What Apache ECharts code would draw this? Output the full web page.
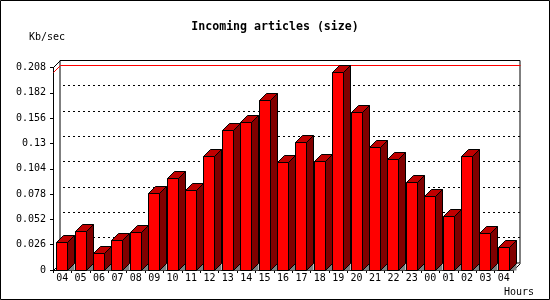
<!DOCTYPE html>
<html>
<head>
<meta charset="utf-8">
<script src="https://cdn.jsdelivr.net/npm/echarts/dist/echarts.min.js"></script>
<style>
html,body{margin:0;padding:0;background:#fff;}
#c{width:550px;height:300px;}
</style>
</head>
<body>
<div id="c"></div>
<script>
const hours = ['04','05','06','07','08','09','10','11','12','13','14','15','16','17','18','19','20','21','22','23','00','01','02','03','04'];
const kbPerSec = [0.0285,0.0397,0.0172,0.0305,0.0387,0.0788,0.0942,0.0819,0.1168,0.1435,0.152,0.1743,0.1106,0.1312,0.1116,0.2031,0.1613,0.126,0.114,0.0901,0.076,0.0552,0.1168,0.0377,0.0233];
const yTickLabels = ['0','0.026','0.052','0.078','0.104','0.13','0.156','0.182','0.208'];
const yStep = 0.026;
const yMax = 0.208;

const FONT = '"DejaVu Sans Mono", "Liberation Mono", monospace';
const D = 7; // 3D depth offset in px

const chart = echarts.init(document.getElementById('c'), null, {renderer: 'canvas'});

function px(v){ return Math.round(v - 0.5) + 0.5; }

const barData = kbPerSec.map((v, i) => [i, v]);
const maxVal = Math.max.apply(null, kbPerSec);
const gridVals = yTickLabels.slice(1, -1).map(Number);

const option = {
  animation: false,
  backgroundColor: '#ffffff',
  grid: [
    {left: 53, top: 67.5, width: 460, height: 202.5, show: false},
    {left: 60, top: 60.5, width: 460, height: 202.5, show: true, borderColor: '#000', borderWidth: 1, backgroundColor: 'transparent'}
  ],
  xAxis: [
    {
      type: 'category', gridIndex: 0, data: hours, boundaryGap: true,
      axisLine: {show: true, lineStyle: {color: '#000', width: 1}},
      axisTick: {show: true, length: 3, interval: 0, lineStyle: {color: '#000'}},
      axisLabel: {interval: 0, margin: 3, color: '#000', fontFamily: FONT, fontSize: 10},
      splitLine: {show: false}
    },
    {
      type: 'category', gridIndex: 1, data: hours, boundaryGap: true, show: false
    }
  ],
  yAxis: [
    {
      type: 'value', gridIndex: 0, min: 0, max: yMax, interval: yStep,
      axisLine: {show: true, lineStyle: {color: '#000', width: 1}},
      axisTick: {show: true, length: 3, lineStyle: {color: '#000'}},
      axisLabel: {margin: 7, color: '#000', fontFamily: FONT, fontSize: 10,
        formatter: function(v){ return yTickLabels[Math.round(v / yStep)]; }},
      splitLine: {show: false}
    },
    {
      type: 'value', gridIndex: 1, min: 0, max: yMax, interval: yStep,
      axisLine: {show: false}, axisTick: {show: false}, axisLabel: {show: false},
      splitLine: {show: false}
    }
  ],
  graphic: [
    {type: 'rect', shape: {x: 0.5, y: 0.5, width: 549, height: 299}, style: {fill: 'none', stroke: '#000', lineWidth: 1}, z: 100},
    {type: 'text', x: 275, y: 27, style: {text: 'Incoming articles (size)', font: 'bold 11.6px ' + FONT, fill: '#000', align: 'center', verticalAlign: 'middle'}},
    {type: 'text', x: 29, y: 37.5, style: {text: 'Kb/sec', font: '10px ' + FONT, fill: '#000', align: 'left', verticalAlign: 'middle'}},
    {type: 'text', x: 504, y: 292, style: {text: 'Hours', font: '10px ' + FONT, fill: '#000', align: 'left', verticalAlign: 'middle'}}
  ],
  series: [
    {
      // dotted gridlines on the back plane
      type: 'custom', xAxisIndex: 1, yAxisIndex: 1, z: 2,
      data: gridVals.map(v => [0, v]),
      renderItem: function(params, api){
        const cs = params.coordSys;
        const y = px(api.coord([0, api.value(1)])[1]);
        return {type: 'line', shape: {x1: cs.x + 3, y1: y, x2: cs.x + cs.width, y2: y},
          style: {stroke: '#000', lineWidth: 1, lineDash: [2, 3]}};
      }
    },
    {
      // frame edges + red max line
      type: 'custom', xAxisIndex: 0, yAxisIndex: 0, z: 3,
      data: [[0, maxVal]],
      renderItem: function(params, api){
        const cs = params.coordSys;
        const x0 = px(cs.x), x1 = px(cs.x + cs.width);
        const yb = px(cs.y + cs.height), yt = px(cs.y);
        const ym = px(api.coord([0, api.value(1)])[1]);
        return {type: 'group', children: [
          {type: 'polyline', shape: {points: [[x0, ym], [x0 + D, ym - D], [x1 + D, ym - D]]}, style: {stroke: '#ff0000', lineWidth: 1, fill: null}},
          {type: 'line', shape: {x1: x0, y1: yt, x2: x0 + D, y2: yt - D}, style: {stroke: '#000', lineWidth: 1}},
          {type: 'line', shape: {x1: x0, y1: yb, x2: x0 + D, y2: yb - D}, style: {stroke: '#000', lineWidth: 1}},
          {type: 'line', shape: {x1: x1, y1: yb, x2: x1 + D, y2: yb - D}, style: {stroke: '#000', lineWidth: 1}}
        ]};
      }
    },
    {
      type: 'custom', xAxisIndex: 0, yAxisIndex: 0, z: 5,
      data: barData,
      renderItem: function(params, api){
        const top = api.coord([api.value(0), api.value(1)]);
        const bot = api.coord([api.value(0), 0]);
        const bw = api.size([1, 0])[0] * 0.6;
        const xl = px(top[0] - bw / 2);
        const xr = px(top[0] + bw / 2);
        const yt = px(top[1]);
        const yb = px(bot[1]);
        const st = {stroke: '#000', lineWidth: 1};
        return {type: 'group', children: [
          {type: 'polygon', shape: {points: [[xr, yb], [xr + D, yb - D], [xr + D, yb]]}, style: {fill: '#808080'}},
          {type: 'polygon', shape: {points: [[xr, yt], [xr + D, yt - D], [xr + D, yb - D], [xr, yb]]}, style: Object.assign({fill: '#800000'}, st)},
          {type: 'polygon', shape: {points: [[xl, yt], [xl + D, yt - D], [xr + D, yt - D], [xr, yt]]}, style: Object.assign({fill: '#c00000'}, st)},
          {type: 'rect', shape: {x: xl, y: yt, width: xr - xl, height: yb - yt}, style: Object.assign({fill: '#ff0000'}, st)}
        ]};
      }
    }
  ]
};
chart.setOption(option);
</script>
</body>
</html>
